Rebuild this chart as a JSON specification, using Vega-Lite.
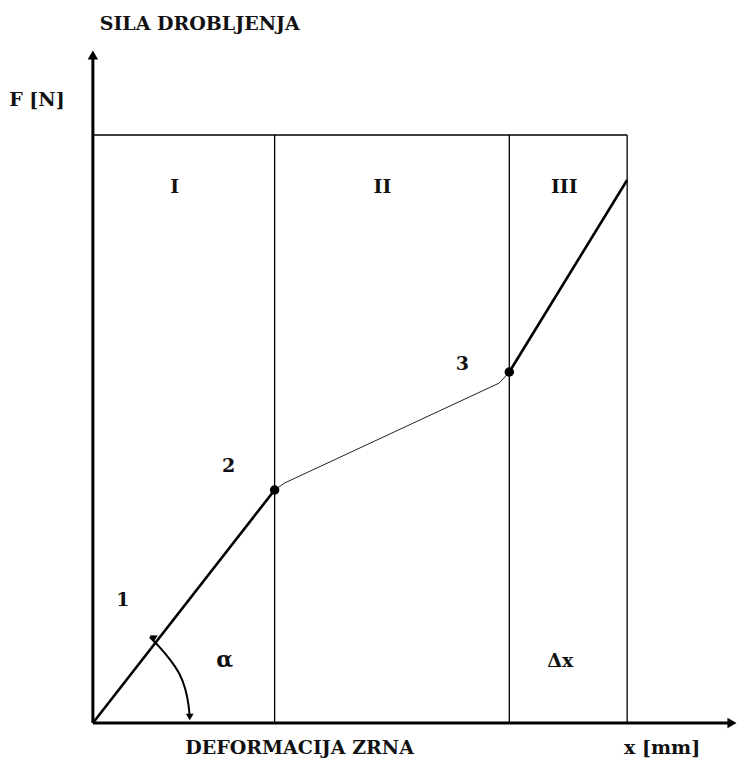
{
  "$schema": "https://vega.github.io/schema/vega-lite/v6.json",
  "width": 737,
  "height": 758,
  "autosize": {"type": "fit", "contains": "padding"},
  "padding": 0,
  "background": "white",
  "config": {"view": {"stroke": null}},
  "datasets": {
    "axes": [
      {"x": 0, "y": 0, "x2": 0, "y2": 664},
      {"x": 0, "y": 0, "x2": 636, "y2": 0}
    ],
    "frame": [
      {"x": 0, "y": 588, "x2": 535, "y2": 588},
      {"x": 182, "y": 0, "x2": 182, "y2": 588},
      {"x": 417, "y": 0, "x2": 417, "y2": 588},
      {"x": 535, "y": 0, "x2": 535, "y2": 588}
    ],
    "thick": [
      {"x": 0, "y": 0, "x2": 182, "y2": 233},
      {"x": 417, "y": 351, "x2": 535, "y2": 543}
    ],
    "thin": [
      {"x": 182, "y": 233, "x2": 192, "y2": 240},
      {"x": 192, "y": 240, "x2": 407, "y2": 340},
      {"x": 407, "y": 340, "x2": 417, "y2": 351}
    ],
    "knots": [
      {"x": 182, "y": 233},
      {"x": 417, "y": 351}
    ],
    "arc": [
      {"o": 1, "x": 57, "y": 86},
      {"o": 2, "x": 66, "y": 77},
      {"o": 3, "x": 77, "y": 64},
      {"o": 4, "x": 87, "y": 50},
      {"o": 5, "x": 93, "y": 34},
      {"o": 6, "x": 96, "y": 18},
      {"o": 7, "x": 97, "y": 6}
    ],
    "heads": [
      {"x": 0, "y": 668, "shape": "triangle-up", "a": 0, "s": 110},
      {"x": 640, "y": 0, "shape": "triangle-right", "a": 0, "s": 110},
      {"x": 60, "y": 86, "shape": "triangle-up", "a": -57, "s": 60},
      {"x": 97, "y": 6, "shape": "triangle-down", "a": 0, "s": 60}
    ],
    "labels": [
      {"t": "SILA DROBLJENJA", "x": 107, "y": 699, "s": 19},
      {"t": "F [N]", "x": -56, "y": 623, "s": 19},
      {"t": "I", "x": 82, "y": 536, "s": 19},
      {"t": "II", "x": 290, "y": 536, "s": 19},
      {"t": "III", "x": 472, "y": 536, "s": 19},
      {"t": "1", "x": 30, "y": 123, "s": 19},
      {"t": "2", "x": 136, "y": 257, "s": 19},
      {"t": "3", "x": 370, "y": 359, "s": 19},
      {"t": "α", "x": 132, "y": 63, "s": 22},
      {"t": "Δx", "x": 468, "y": 62, "s": 19},
      {"t": "DEFORMACIJA ZRNA", "x": 207, "y": -25, "s": 19},
      {"t": "x [mm]", "x": 570, "y": -25, "s": 19}
    ]
  },
  "encoding": {
    "x": {"field": "x", "type": "quantitative", "scale": {"domain": [-93, 644], "nice": false, "zero": false}, "axis": null},
    "y": {"field": "y", "type": "quantitative", "scale": {"domain": [-35, 723], "nice": false, "zero": false}, "axis": null}
  },
  "layer": [
    {
      "data": {"name": "frame"},
      "mark": {"type": "rule", "color": "black", "strokeWidth": 1.3},
      "encoding": {"x2": {"field": "x2"}, "y2": {"field": "y2"}}
    },
    {
      "data": {"name": "axes"},
      "mark": {"type": "rule", "color": "black", "strokeWidth": 3},
      "encoding": {"x2": {"field": "x2"}, "y2": {"field": "y2"}}
    },
    {
      "data": {"name": "thick"},
      "mark": {"type": "rule", "color": "black", "strokeWidth": 2.6},
      "encoding": {"x2": {"field": "x2"}, "y2": {"field": "y2"}}
    },
    {
      "data": {"name": "thin"},
      "mark": {"type": "rule", "color": "#222", "strokeWidth": 1},
      "encoding": {"x2": {"field": "x2"}, "y2": {"field": "y2"}}
    },
    {
      "data": {"name": "arc"},
      "mark": {"type": "line", "color": "black", "strokeWidth": 2, "interpolate": "basis"},
      "encoding": {"order": {"field": "o", "type": "quantitative"}}
    },
    {
      "data": {"name": "knots"},
      "mark": {"type": "point", "filled": true, "color": "black", "size": 90, "opacity": 1}
    },
    {
      "data": {"name": "heads"},
      "mark": {"type": "point", "filled": true, "color": "black", "opacity": 1},
      "encoding": {
        "shape": {"field": "shape", "type": "nominal", "scale": null},
        "size": {"field": "s", "type": "quantitative", "scale": null},
        "angle": {"field": "a", "type": "quantitative", "scale": null}
      }
    },
    {
      "data": {"name": "labels"},
      "mark": {"type": "text", "font": "DejaVu Serif", "fontWeight": "bold", "baseline": "middle", "align": "center", "color": "#111"},
      "encoding": {
        "text": {"field": "t", "type": "nominal"},
        "size": {"field": "s", "type": "quantitative", "scale": null}
      }
    }
  ]
}
